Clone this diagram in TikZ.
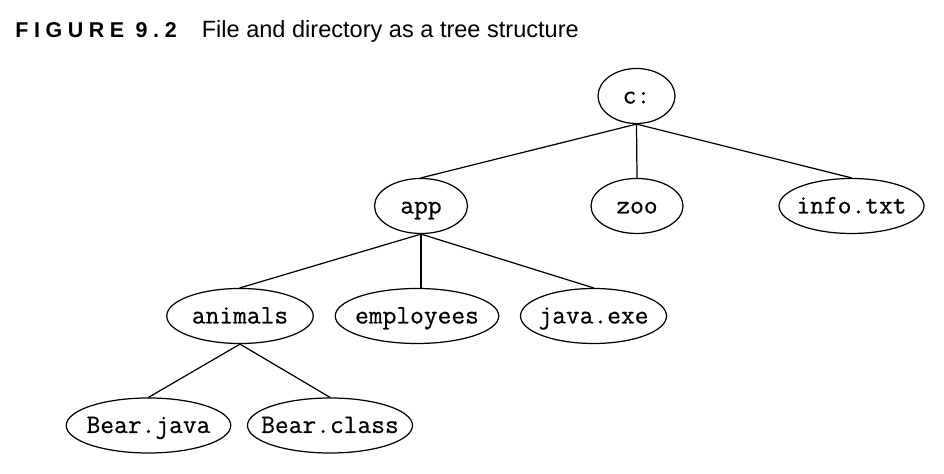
\documentclass[tikz,border=0pt]{standalone}
\usepackage{fontspec}
\setmainfont{Liberation Sans}
\newfontfamily\figfont{Liberation Sans Bold}[LetterSpace=26]
\newfontfamily\filefont{Latin Modern Mono}[FakeBold=0.6]
\usetikzlibrary{shapes.geometric}
\tikzset{
  every picture/.style={line join=round, line cap=round},
  file/.style={draw, ellipse, line width=0.7pt, minimum height=1.1cm, minimum width=#1, inner sep=0pt,
    font=\filefont\fontsize{15.2}{17}\selectfont, text height=0.4cm, text depth=0.1cm},
  branch/.style={line width=0.7pt},
  caption/.style={anchor=base west, inner sep=0pt},
}

\begin{document}
\begin{tikzpicture}
\useasboundingbox (0,0) rectangle (18.88,9.48);
\node[caption] (fignum) at (0.30,8.73) {\figfont\fontsize{12.2}{14}\selectfont FIGURE 9.2};
\node[caption] (figtitle) at (4.03,8.73) {\fontsize{13.4}{16}\selectfont File and directory as a tree structure};

\node[file=1.54cm] (root) at (12.73,7.56) {\makebox[0pt]{c:}};
\node[file=1.86cm] (app) at (8.42,5.36) {\makebox[0pt]{app}};
\node[file=1.84cm] (zoo) at (12.74,5.36) {\makebox[0pt]{zoo}};
\node[file=2.90cm] (info) at (17.03,5.36) {\makebox[0pt]{info.txt}};
\node[file=2.93cm] (animals) at (4.80,3.16) {\makebox[0pt]{animals}};
\node[file=3.27cm] (employees) at (8.34,3.16) {\makebox[0pt]{employees}};
\node[file=2.92cm] (javaexe) at (11.87,3.16) {\makebox[0pt]{java.exe}};
\node[file=3.29cm] (bearjava) at (2.97,0.97) {\makebox[0pt]{Bear.java}};
\node[file=3.30cm] (bearclass) at (6.60,0.97) {\makebox[0pt]{Bear.class}};

\draw[branch] (root.south)--(app.north);
\draw[branch] (root.south)--(zoo.north);
\draw[branch] (root.south)--(info.north);
\draw[branch] (app.south)--(animals.north);
\draw[branch] (app.south)--(app.south |- employees.north);
\draw[branch] (app.south)--(javaexe.north);
\draw[branch] (animals.south)--(bearjava.north);
\draw[branch] (animals.south)--(bearclass.north);
\end{tikzpicture}
\end{document}
